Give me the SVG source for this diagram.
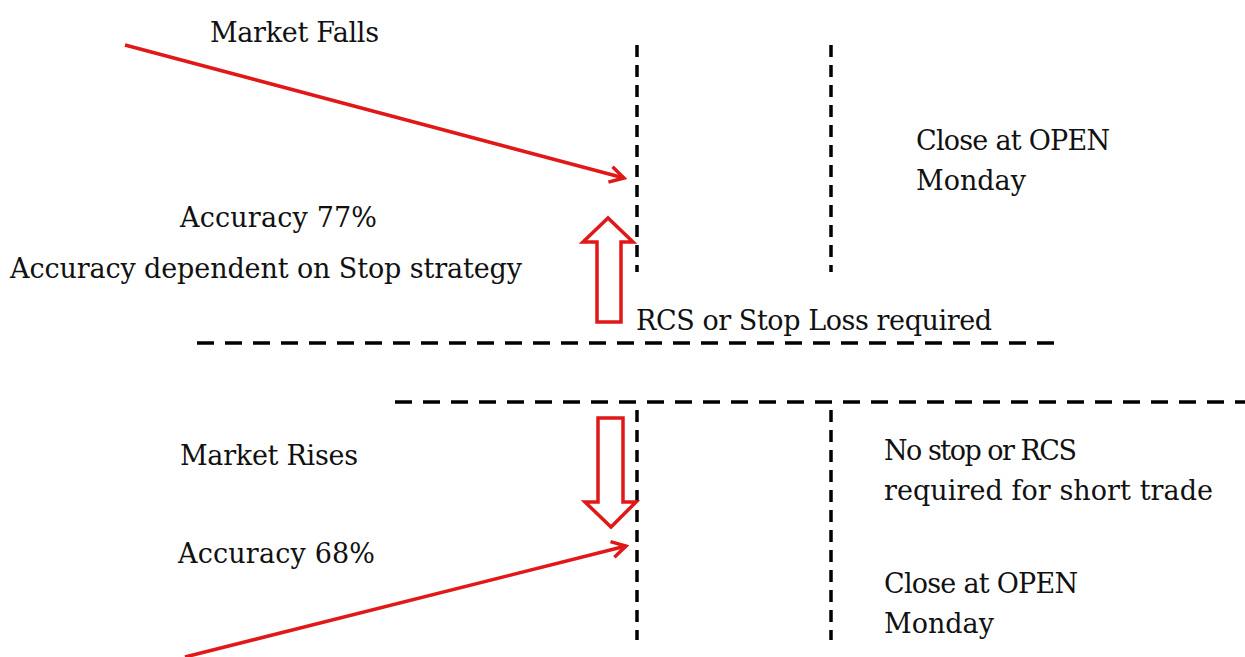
<svg xmlns="http://www.w3.org/2000/svg" width="1245" height="657" viewBox="0 0 1245 657">
<defs>
<style>
.t{font-family:"DejaVu Serif","Liberation Serif",serif;font-size:27px;fill:#111;}
.v{stroke:#000;stroke-width:3.5;stroke-dasharray:12 8;fill:none;}
.h{stroke:#000;stroke-width:3.5;stroke-dasharray:17 11;fill:none;}
.ar{stroke:#e01818;stroke-width:3.5;fill:none;}
.blk{stroke:#e01818;stroke-width:3.5;fill:#fff;stroke-linejoin:miter;}
</style>
<marker id="chev" viewBox="0 0 20 20" refX="17" refY="10" markerWidth="20" markerHeight="20" markerUnits="userSpaceOnUse" orient="auto">
<path d="M3,2 L17,10 L3,18" fill="none" stroke="#e01818" stroke-width="3.5"/>
</marker>
</defs>
<rect width="1245" height="657" fill="#fff"/>
<g id="connectors">
<line class="v" x1="637" y1="45" x2="637" y2="272"/>
<line class="v" x1="831" y1="45" x2="831" y2="272"/>
<line class="h" x1="197" y1="343" x2="1060" y2="343"/>
<line class="h" x1="395" y1="402" x2="1245" y2="402"/>
<line class="v" x1="637" y1="410" x2="637" y2="640"/>
<line class="v" x1="831" y1="410" x2="831" y2="640"/>
<line class="ar" x1="125" y1="45" x2="624" y2="178" marker-end="url(#chev)"/>
<line class="ar" x1="185" y1="657" x2="626" y2="546" marker-end="url(#chev)"/>
</g>
<g id="up-arrow"><path class="blk" d="M597,322 L621,322 L621,242 L633,242 L608,218 L583,242 L597,242 Z"/></g>
<g id="down-arrow"><path class="blk" d="M598,418 L623,418 L623,502 L636,502 L611,527 L585,502 L598,502 Z"/></g>
<g id="market-falls"><text class="t" x="210" y="42" textLength="169">Market Falls</text></g>
<g id="close-top"><text class="t" x="916" y="150" textLength="194">Close at OPEN</text><text class="t" x="916" y="190" textLength="110">Monday</text></g>
<g id="acc77"><text class="t" x="180" y="227" textLength="197">Accuracy 77%</text></g>
<g id="acc-dep"><text class="t" x="10" y="278" textLength="512">Accuracy dependent on Stop strategy</text></g>
<g id="rcs"><text class="t" x="636" y="330" textLength="356">RCS or Stop Loss required</text></g>
<g id="market-rises"><text class="t" x="180" y="465" textLength="178">Market Rises</text></g>
<g id="no-stop"><text class="t" x="884" y="460" textLength="193">No stop or RCS</text><text class="t" x="884" y="500" textLength="329">required for short trade</text></g>
<g id="acc68"><text class="t" x="178" y="563" textLength="197">Accuracy 68%</text></g>
<g id="close-bottom"><text class="t" x="884" y="593" textLength="194">Close at OPEN</text><text class="t" x="884" y="633" textLength="110">Monday</text></g>
</svg>
